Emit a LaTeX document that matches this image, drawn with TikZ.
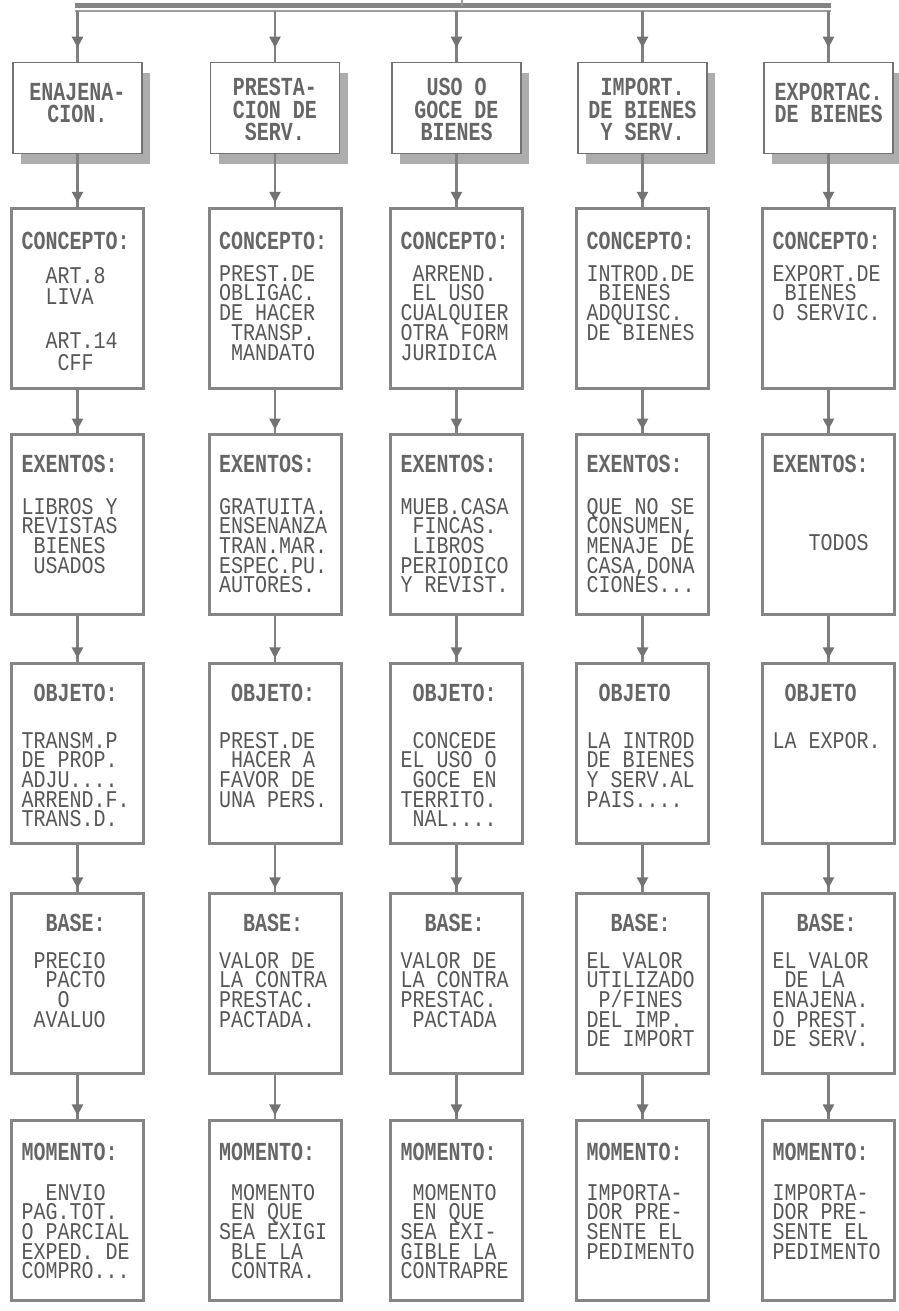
\documentclass[tikz,border=0pt]{standalone}
\usepackage{fontspec}
\setmonofont{Liberation Mono}
\usetikzlibrary{arrows.meta,decorations.markings,shadows}
\newcommand\dotfont{\ttfamily\fontsize{20}{20}\selectfont\frenchspacing}
\newcommand\tdd{...}
\newcommand\bt[1]{\scalebox{1}[1.2]{#1}}
\newcommand\hb[1]{\scalebox{1}[1.3]{\bfseries #1}}
\newcommand\txtlines[5]{\foreach \myline [count=\i from 0] in {#5} {\node[bodytxt] (#1-\i) at (#2, #3+\i*#4+8) {\bt{\myline}};}}
\newcommand\toplines[4]{\foreach \myline [count=\i from 0] in {#4} {\node[toptxt] (#1-\i) at (#2, #3+\i*22+9) {\hb{\myline}};}}
\begin{document}
\begin{tikzpicture}[x=1pt,y=-1pt,
  bodytxt/.style={anchor=base west, inner sep=0pt, font=\dotfont, text=black!66},
  headtxt/.style={anchor=base west, inner sep=0pt, font=\dotfont, text=black!60},
  toptxt/.style={anchor=base, inner sep=0pt, font=\dotfont, text=black!60},
  box/.style={draw=black!48, line width=3pt, fill=white, minimum width=132pt, minimum height=180pt, inner sep=0pt, anchor=north},
  topbox/.style={draw=black!55, line width=1.2pt, fill=white, minimum width=129pt, minimum height=91pt, inner sep=0pt, anchor=north,
     drop shadow={shadow xshift=8pt, shadow yshift=-10pt, fill=black!32, opacity=1}},
  conn/.style={draw=black!50, line width=2.5pt, postaction={decorate},
     decoration={markings, mark=at position #1 with {\arrow[black!55]{Triangle[width=11pt,length=11pt]}}}},
  bar/.style={draw=black!48, line width=5pt},
  bar2/.style={draw=black!38, line width=2.5pt}
]
\useasboundingbox (0,0) rectangle (898,1311);

% top bar
\coordinate (top) at (462,0);
\coordinate (barL) at (75,6);
\coordinate (barR) at (831,6);
\coordinate (barL2) at (75,11);
\coordinate (barR2) at (831,11);
\coordinate (barC) at (462,6);
\draw[bar] (barL) -- (barR);
\draw[bar2] (barL2) -- (barR2);
\draw[bar2] (top) -- (barC);

% boxes
\foreach \c/\x in {1/77.5,2/275,3/456.5,4/642.5,5/828.5} {
  \coordinate (d\c) at (\x,11);
  \node[topbox] (b1\c) at (\x,62) {};
  \foreach \r/\t in {2/207,3/433,4/662,5/892,6/1119} {
    \node[box] (b\r\c) at (\x,\t) {};
  }
}

% connectors
\foreach \c in {1,2,3,4,5} {
  \draw[conn=0.72] (d\c) -- (b1\c.north);
  \foreach \r/\s in {1/2,2/3,3/4,4/5,5/6} {
    \draw[conn=0.92] (b\r\c.south) -- (b\s\c.north);
  }
}

% row 1 texts
\toplines{t11}{77.5}{92}{ENAJENA-,CION.}
\toplines{t12}{275}{87}{PRESTA-,CION DE,SERV.}
\toplines{t13}{456.5}{87}{USO O,GOCE DE,BIENES}
\toplines{t14}{642.5}{87}{IMPORT.,DE BIENES,Y SERV.}
\toplines{t15}{828.5}{92}{EXPORTAC.,DE BIENES}

% headers
\foreach \c/\o in {1/21.5,2/219,3/400.5,4/586.5,5/772.5} {
  \node[headtxt] (h2\c) at (\o,249) {\hb{CONCEPTO:}};
  \node[headtxt] (h3\c) at (\o,472) {\hb{EXENTOS:}};
  \node[headtxt] (h5\c) at (\o,931) {\hb{~~BASE:}};
  \node[headtxt] (h6\c) at (\o,1160) {\hb{MOMENTO:}};
}
\foreach \c/\o in {1/21.5,2/219,3/400.5} {
  \node[headtxt] (h4\c) at (\o,701) {\hb{~OBJETO:}};
}
\foreach \c/\o in {4/586.5,5/772.5} {
  \node[headtxt] (h4\c) at (\o,701) {\hb{~OBJETO}};
}

% row 2 CONCEPTO
\txtlines{x21}{21.5}{275}{21.75}{~~ART.8,~~LIVA,{},~~ART.14,~~~CFF}
\txtlines{x22}{219}{273}{19.8}{PREST.DE,OBLIGAC.,DE HACER,~TRANSP.,~MANDATO}
\txtlines{x23}{400.5}{273}{19.8}{~ARREND.,~EL USO,CUALQUIER,OTRA FORM,JURIDICA}
\txtlines{x24}{586.5}{273}{19.8}{INTROD.DE,~BIENES,ADQUISC.,DE BIENES}
\txtlines{x25}{772.5}{273}{19.8}{EXPORT.DE,~BIENES,O SERVIC.}

% row 3 EXENTOS
\txtlines{x31}{21.5}{506}{19.7}{LIBROS Y,REVISTAS,~BIENES,~USADOS}
\txtlines{x32}{219}{506}{19.7}{GRATUITA.,ENSENANZA,TRAN.MAR.,ESPEC.PU.,AUTORES.}
\txtlines{x33}{400.5}{506}{19.7}{MUEB.CASA,~FINCAS.,~LIBROS,PERIODICO,Y REVIST.}
\txtlines{x34}{586.5}{506}{19.7}{QUE NO SE,{CONSUMEN,},MENAJE DE,{CASA,DONA},CIONES\tdd}
\txtlines{x35}{772.5}{542}{19.7}{~~~TODOS}

% row 4 OBJETO
\txtlines{x41}{21.5}{740}{19.7}{TRANSM.P,DE PROP.,ADJU\tdd.,ARREND.F.,TRANS.D.}
\txtlines{x42}{219}{740}{19.7}{PREST.DE,~HACER A,FAVOR DE,UNA PERS.}
\txtlines{x43}{400.5}{740}{19.7}{~CONCEDE,EL USO O,~GOCE EN,TERRITO.,~NAL\tdd.}
\txtlines{x44}{586.5}{740}{19.7}{LA INTROD,DE BIENES,Y SERV.AL,PAIS\tdd.}
\txtlines{x45}{772.5}{740}{19.7}{LA EXPOR.}

% row 5 BASE
\txtlines{x51}{21.5}{960}{19.7}{~PRECIO,~~PACTO,~~~O,~AVALUO}
\txtlines{x52}{219}{960}{19.7}{VALOR DE,LA CONTRA,PRESTAC.,PACTADA.}
\txtlines{x53}{400.5}{960}{19.7}{VALOR DE,LA CONTRA,PRESTAC.,~PACTADA}
\txtlines{x54}{586.5}{960}{19.7}{EL VALOR,UTILIZADO,~P/FINES,DEL IMP.,DE IMPORT}
\txtlines{x55}{772.5}{960}{19.7}{EL VALOR,~DE LA,ENAJENA.,O PREST.,DE SERV.}

% row 6 MOMENTO
\txtlines{x61}{21.5}{1192}{19.7}{~~ENVIO,PAG.TOT.,O PARCIAL,EXPED. DE,COMPRO\tdd}
\txtlines{x62}{219}{1192}{19.7}{~MOMENTO,~EN QUE,SEA EXIGI,~BLE LA,~CONTRA.}
\txtlines{x63}{400.5}{1192}{19.7}{~MOMENTO,~EN QUE,SEA EXI-,GIBLE LA,CONTRAPRE}
\txtlines{x64}{586.5}{1192}{19.7}{IMPORTA-,DOR PRE-,SENTE EL,PEDIMENTO}
\txtlines{x65}{772.5}{1192}{19.7}{IMPORTA-,DOR PRE-,SENTE EL,PEDIMENTO}
\end{tikzpicture}
\end{document}
